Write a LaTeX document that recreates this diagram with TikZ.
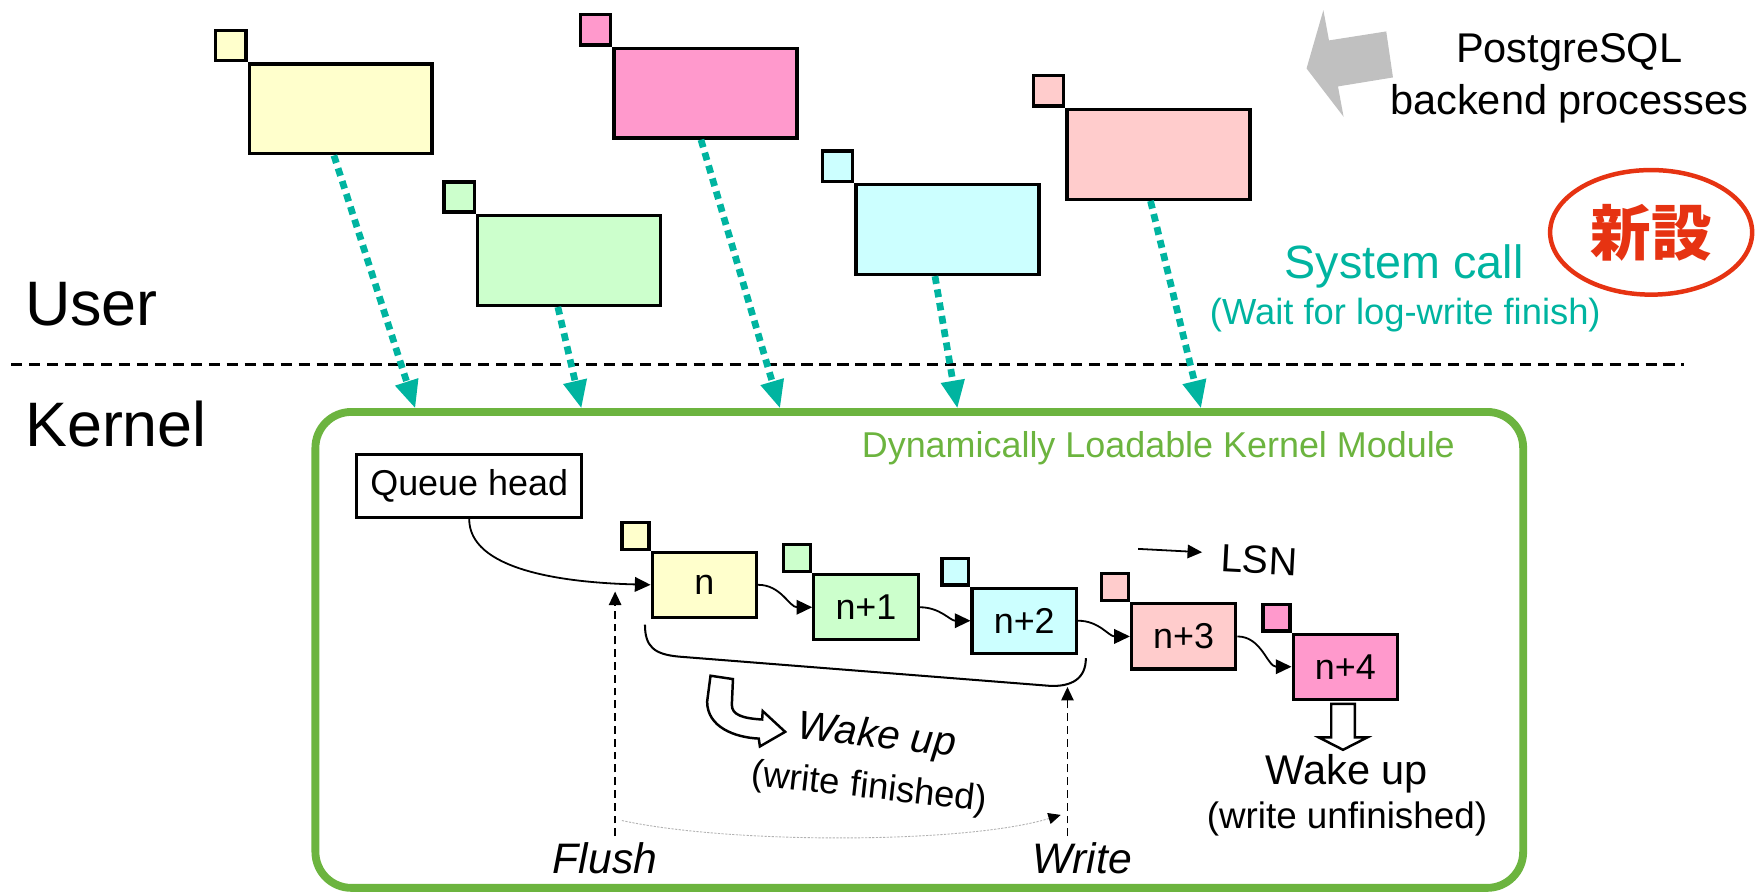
\documentclass[tikz,border=0pt]{standalone}
\usepackage{fontspec}
\setmainfont{Liberation Sans}
\newfontfamily\cjk{Noto Sans CJK JP}
\usetikzlibrary{arrows.meta,positioning,calc,shapes.geometric}

\definecolor{procY}{HTML}{FFFFCC}
\definecolor{procG}{HTML}{CCFFCC}
\definecolor{procP}{HTML}{FF99CC}
\definecolor{procC}{HTML}{CCFFFF}
\definecolor{procS}{HTML}{FFCCCC}
\definecolor{sysc}{HTML}{00B4A0}
\definecolor{modg}{HTML}{6CB43F}
\definecolor{newred}{HTML}{E63312}
\definecolor{arrgray}{HTML}{C0C0C0}

\tikzset{
  proc/.style={draw, line width=1.5pt, minimum width=81.5pt, minimum height=40pt, inner sep=0pt},
  ptag/.style={draw, line width=1.5pt, minimum size=13.5pt, inner sep=0pt, anchor=south east},
  qent/.style={draw, line width=1.4pt, minimum width=46.5pt, minimum height=29pt, inner sep=0pt, font=\fontsize{16}{19}\selectfont},
  qtag/.style={draw, line width=1.4pt, minimum size=12pt, inner sep=0pt, anchor=south east},
  syscall/.style={sysc, line width=3pt, dash pattern=on 3.5pt off 2.5pt, -{Triangle[length=12.5pt,width=10pt]}},
  link/.style={line width=0.8pt, -{Triangle[length=7pt,width=6.5pt]}},
  timing/.style={line width=0.7pt, dash pattern=on 3.5pt off 2.2pt, -{Triangle[length=6pt,width=5.5pt]}},
  hollow/.style={draw, fill=white, line width=1.1pt, line join=miter},
  lbl/.style={inner sep=0pt, anchor=base}
}

\begin{document}
\begin{tikzpicture}[x=0.5pt, y=-0.5pt]
\useasboundingbox (0,0) rectangle (1568,797);

% backend processes
\node[proc, fill=procY] (pr1) at (303.5,97) {};
\node[proc, fill=procG] (pr2) at (507,232) {};
\node[proc, fill=procP] (pr3) at (628.5,83) {};
\node[proc, fill=procC] (pr4) at (844,204.5) {};
\node[proc, fill=procS] (pr5) at (1032,137.5) {};
\foreach \p/\c in {pr1/procY, pr2/procG, pr3/procP, pr4/procC, pr5/procS}
  \node[ptag, fill=\c] (\p-tag) at (\p.north west) {};

\node[lbl, anchor=base west, font=\fontsize{28}{30}\selectfont] (user) at (22,290) {User};
\node[lbl, anchor=base west, font=\fontsize{28}{30}\selectfont] (kernel) at (22,398) {Kernel};
\coordinate (divL) at (10,325);
\coordinate (divR) at (1500,325);
\draw[line width=1.2pt, dash pattern=on 5pt off 3pt] (divL) -- (divR);

\fill[arrgray] (1164,61) -- (1179,9) -- (1184,36) -- (1235,28) -- (1241,69) -- (1192,77) -- (1197,104) -- cycle;
\node[lbl, font=\fontsize{18.5}{22}\selectfont] (pgA) at (1398,56) {PostgreSQL};
\node[lbl, font=\fontsize{18.5}{22}\selectfont] (pgB) at (1398,102) {backend processes};

\node[ellipse, draw=newred, line width=2pt, minimum width=90pt, minimum height=55.5pt, inner sep=0pt,
  text=newred, font=\cjk\bfseries\fontsize{27}{30}\selectfont] (newmark) at (1471,207) {新設};
\node[lbl, text=sysc, font=\fontsize{20.8}{24}\selectfont] (sctitle) at (1251,248) {System call};
\node[lbl, text=sysc, font=\fontsize{16.2}{19}\selectfont] (scnote) at (1252,289) {(Wait for log-write finish)};

% kernel module
\node[draw=modg, line width=3.5pt, rounded corners=16pt, minimum width=538pt, minimum height=212pt, inner sep=0pt] (klm) at (819,579) {};
\node[lbl, text=modg, font=\fontsize{16}{19}\selectfont] (klmname) at (1032,408) {Dynamically Loadable Kernel Module};

\foreach \i/\x in {1/370, 2/518, 3/695, 4/853, 5/1070}
  \coordinate (k\i) at (\x,364);
\draw[syscall] ([xshift=-3pt]pr1.south) -- (k1);
\draw[syscall] ([xshift=-5pt]pr2.south) -- (k2);
\draw[syscall] ([xshift=-2pt]pr3.south) -- (k3);
\draw[syscall] ([xshift=-5.5pt]pr4.south) -- (k4);
\draw[syscall] ([xshift=-3.5pt]pr5.south) -- (k5);

% log queue
\node[draw, line width=1.3pt, minimum width=100pt, minimum height=28pt, inner sep=0pt, font=\fontsize{16}{19}\selectfont] (qhead) at (418,433) {Queue head};
\node[qent, fill=procY] (q0) at (627.5,521) {n};
\node[qent, fill=procG] (q1) at (771.5,541) {n+1};
\node[qent, fill=procC] (q2) at (912.5,553) {n+2};
\node[qent, fill=procS] (q3) at (1054.5,567) {n+3};
\node[qent, fill=procP] (q4) at (1198.5,594) {n+4};
\foreach \q/\c in {q0/procY, q1/procG, q2/procC, q3/procS, q4/procP}
  \node[qtag, fill=\c] (\q-tag) at (\q.north west) {};

\draw[link] (qhead.south) .. controls +(0,45) and +(-80,-2) .. (q0.west);
\foreach \a/\b in {q0/q1, q1/q2, q2/q3, q3/q4}
  \draw[link] (\a.east) to[out=0, in=180] (\b.west);

\coordinate (lsnA) at (1014,489);
\coordinate (lsnB) at (1071,492);
\draw[line width=0.8pt, -{Triangle[length=6.5pt,width=6pt]}] (lsnA) -- (lsnB);
\node[lbl, rotate=-3, font=\fontsize{17.5}{20}\selectfont] (lsn) at (1121,511) {LSN};

% flushed range
\coordinate (brA) at ([shift={(-5,5)}]q0.south west);
\coordinate (brB) at ([shift={(7,3)}]q2.south east);
\draw[line width=0.9pt] (brA) .. controls +(0,20) and +(-22,-2) .. (605,585) -- (935,611) .. controls +(20,1) and +(0,18) .. (brB);

\coordinate (flushTop) at (548,527);
\coordinate (flushBot) at (548,745);
\coordinate (writeTop) at (951,612);
\coordinate (writeBot) at (951,745);
\draw[timing] (flushBot) -- (flushTop);
\draw[timing] (writeBot) -- (writeTop);
\coordinate (arcA) at (554,731);
\coordinate (arcB) at (945,726);
\draw[gray!60, line width=0.4pt, dash pattern=on 1pt off 0.6pt, -{Triangle[length=5.5pt,width=5pt,black]}] (arcA) .. controls (650,752) and (860,752) .. (arcB);
\node[lbl, font=\itshape\fontsize{19}{22}\selectfont] (flush) at (539,778) {Flush};
\node[lbl, font=\itshape\fontsize{19}{22}\selectfont] (write) at (964,778) {Write};

% wake up
\draw[hollow] (633,602) -- (653,605) -- (652,628) .. controls (652,637) and (662,640) .. (679,641)
  -- (679.5,633.5) -- (699.5,652) -- (677,665) -- (676,658) .. controls (655,657) and (630,648) .. (630,625) -- cycle;
\node[lbl, rotate=-6.5, font=\itshape\fontsize{18}{21}\selectfont] (wakeA) at (780,666) {Wake up};
\node[lbl, rotate=-6.5, font=\fontsize{16.2}{19}\selectfont] (wakeAnote) at (773.5,711) {(write finished)};

\draw[hollow] (1186,627) -- (1207,627) -- (1207,657) -- (1218,657) -- (1196.5,668) -- (1175,657) -- (1186,657) -- cycle;
\node[lbl, font=\fontsize{18.5}{21}\selectfont] (wakeB) at (1200,699) {Wake up};
\node[lbl, font=\fontsize{16.4}{19}\selectfont] (wakeBnote) at (1200,738) {(write unfinished)};
\end{tikzpicture}
\end{document}
